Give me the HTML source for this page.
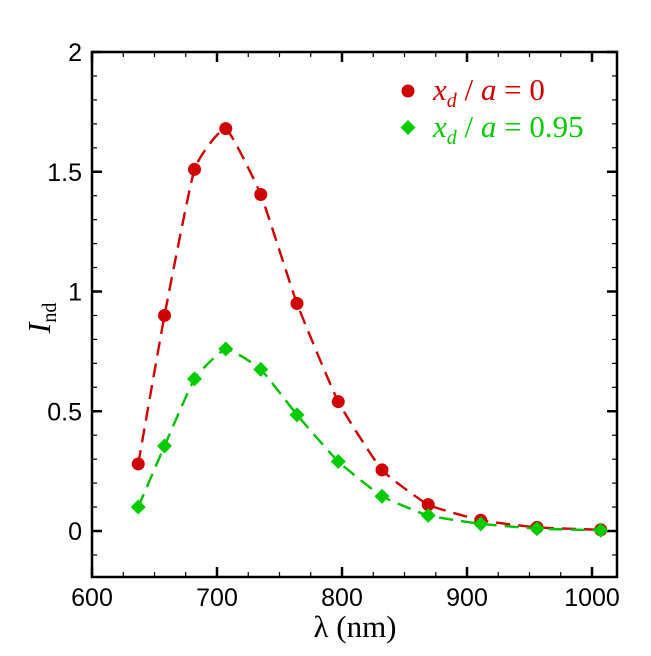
<!DOCTYPE html>
<html><head><meta charset="utf-8"><style>
body{margin:0;background:#fff}
svg text{font-family:"Liberation Sans",sans-serif}
</style></head><body>
<svg id="c" width="651" height="651" xmlns="http://www.w3.org/2000/svg"></svg>
<script>
const lambdas=[637,658,682,707,735,764,797,832,869,911,956,1007];
const seriesA=[0.28,0.90,1.51,1.68,1.405,0.95,0.54,0.255,0.11,0.045,0.015,0.005];
const seriesB=[0.10,0.355,0.635,0.76,0.675,0.485,0.29,0.145,0.065,0.03,0.01,0.003];
const xTicks=[600,700,800,900,1000];
const yTicks=[0,0.5,1,1.5,2];
const yTickLabels=["0","0.5","1","1.5","2"];
const L=92,R=617,T=52,B=577;
const X=v=>L+(v-600)*1.25;
const Y=v=>531-(v)*239.5;
const svg=document.getElementById('c');
const NS='http://www.w3.org/2000/svg';
function mk(t,a,p){const e=document.createElementNS(NS,t);for(const k in a)e.setAttribute(k,a[k]);(p||svg).appendChild(e);return e;}
let e;
e=mk('rect',{x:L,y:T,width:R-L,height:B-T,fill:'none',stroke:'#000','stroke-width':2.5});


for(let v=600;v<=1025;v+=25){const px=X(v);if(px>R)break;const maj=v%100===0;const len=maj?10:5;
 mk('line',{x1:px,y1:B,x2:px,y2:B-len,stroke:'#000','stroke-width':maj?2.5:1.2});
 mk('line',{x1:px,y1:T,x2:px,y2:T+len,stroke:'#000','stroke-width':maj?2.5:1.2});}
for(let i=-1;i<=20;i++){const v=i/10;const py=Y(v);if(py>B||py<T)continue;const maj=i%5===0;const len=maj?10:5;
 mk('line',{x1:L,y1:py,x2:L+len,y2:py,stroke:'#000','stroke-width':maj?2.5:1.2});
 mk('line',{x1:R,y1:py,x2:R-len,y2:py,stroke:'#000','stroke-width':maj?2.5:1.2});}
xTicks.forEach(v=>{e=mk('text',{x:X(v),y:606,'text-anchor':'middle','font-size':25});e.textContent=v;

});
yTicks.forEach((v,i)=>{e=mk('text',{x:82,y:Y(v)+9,'text-anchor':'end','font-size':25});e.textContent=yTickLabels[i];

});
e=mk('text',{x:355,y:637,'text-anchor':'middle','font-size':31,style:'font-family:"Liberation Serif",serif'});
e.innerHTML='λ (nm)';


e=mk('text',{x:0,y:0,transform:'translate(50,318) rotate(-90)','font-size':32,'text-anchor':'middle',style:'font-family:"Liberation Serif",serif'});
e.innerHTML='<tspan font-style="italic">I</tspan><tspan font-size="20" dy="6">nd</tspan>';


function curve(vals){const p=lambdas.map((l,i)=>[X(l),Y(vals[i])]);let d='M'+p[0];
 for(let i=0;i<p.length-1;i++){const p0=p[i-1]||p[i],p1=p[i],p2=p[i+1],p3=p[i+2]||p2;const k=0.07;
 const c1=[p1[0]+(p2[0]-p0[0])*k,p1[1]+(p2[1]-p0[1])*k],c2=[p2[0]-(p3[0]-p1[0])*k,p2[1]-(p3[1]-p1[1])*k];
 d+=' C'+c1+' '+c2+' '+p2;}return d;}
e=mk('path',{d:curve(seriesA),fill:'none',stroke:'#d00000','stroke-width':2.4,'stroke-dasharray':'14,8'});


e=mk('path',{d:curve(seriesB),fill:'none',stroke:'#00c000','stroke-width':2.4,'stroke-dasharray':'14,8'});


lambdas.forEach((l,i)=>{e=mk('circle',{cx:X(l),cy:Y(seriesA[i]),r:6.5,fill:'#d00000'});


const x=X(l),y=Y(seriesB[i]);e=mk('polygon',{points:`${x},${y-7.5} ${x+7.5},${y} ${x},${y+7.5} ${x-7.5},${y}`,fill:'#00cc00'});

});
e=mk('circle',{cx:408,cy:91,r:6.5,fill:'#d00000'});


e=mk('polygon',{points:'408,120 415.5,127.5 408,135 400.5,127.5',fill:'#00cc00'});


e=mk('text',{x:433,y:100,fill:'#d00000','font-size':31,style:'font-family:"Liberation Serif",serif'});
e.innerHTML='<tspan font-style="italic">x</tspan><tspan font-style="italic" font-size="20" dy="7">d</tspan><tspan dy="-7"> / </tspan><tspan font-style="italic">a</tspan><tspan> = 0</tspan>';


e=mk('text',{x:433,y:137,fill:'#00cc00','font-size':31,style:'font-family:"Liberation Serif",serif'});
e.innerHTML='<tspan font-style="italic">x</tspan><tspan font-style="italic" font-size="20" dy="7">d</tspan><tspan dy="-7"> / </tspan><tspan font-style="italic">a</tspan><tspan> = 0.95</tspan>';


</script>
</body></html>
